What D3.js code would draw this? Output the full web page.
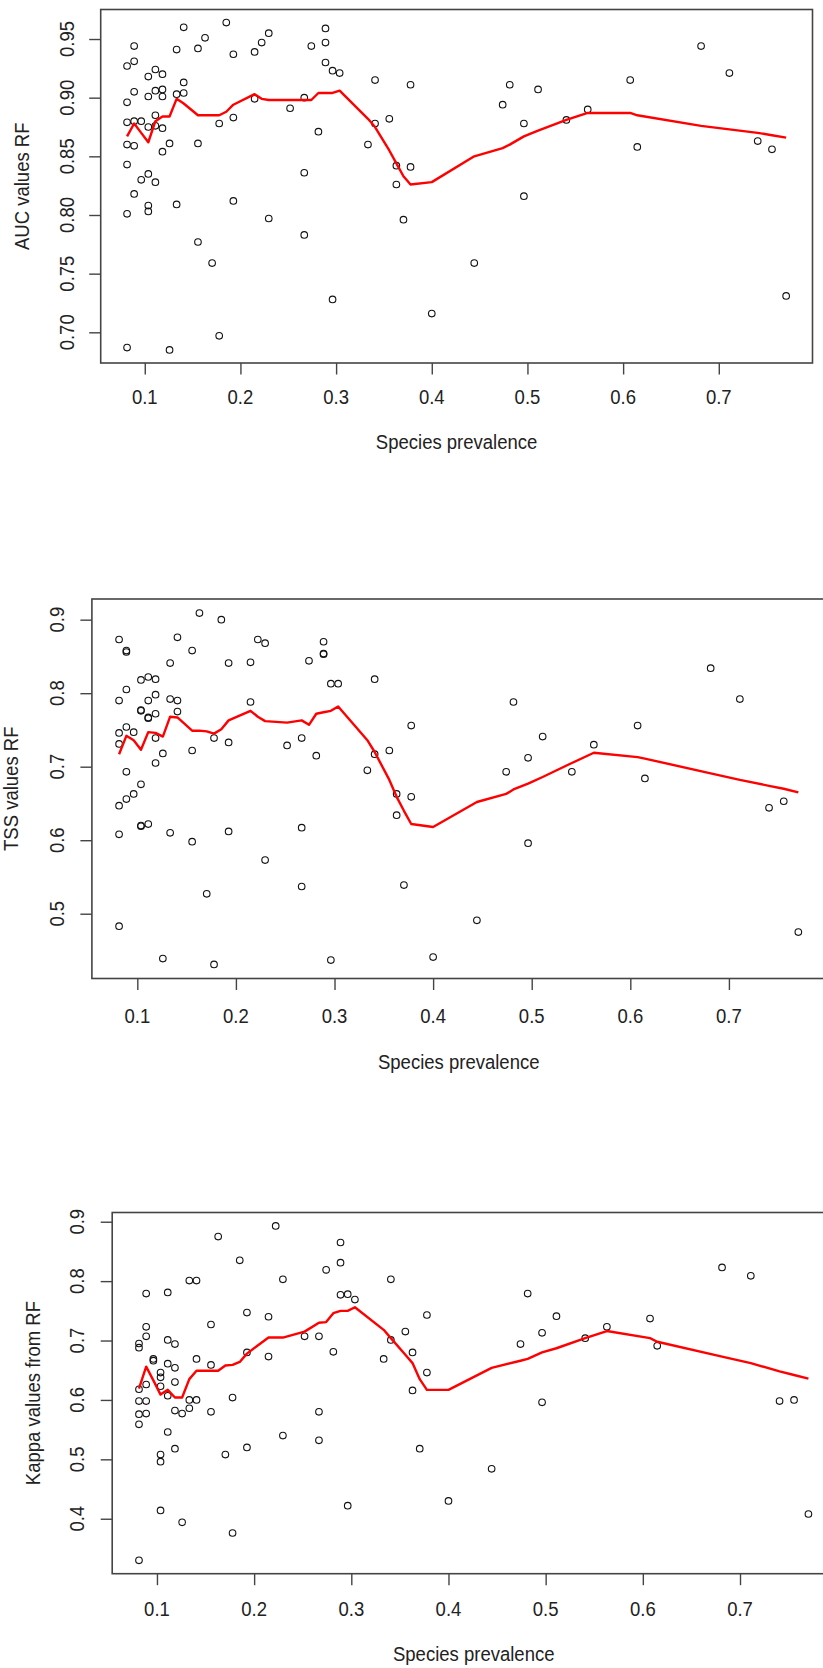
<!DOCTYPE html>
<html>
<head>
<meta charset="utf-8">
<script src="https://cdn.jsdelivr.net/npm/d3@7"></script>
<style>
  html, body { margin: 0; padding: 0; background: #fff; overflow: hidden; }
  svg { display: block; }
</style>
</head>
<body>
<svg id="chart" width="823" height="1668"></svg>
<script>
// Species prevalence (one entry per species, shared by all three panels)
const prevalence = [
  0.0815,0.0815,0.0815,0.0815,0.0815,0.0815,0.0815,
  0.0889,0.0889,0.0889,0.0889,0.0889,0.0889,
  0.0963,0.0963,
  0.1037,0.1037,0.1037,0.1037,0.1037,0.1037,
  0.1111,0.1111,0.1111,0.1111,0.1111,
  0.1185,0.1185,0.1185,0.1185,0.1185,
  0.1259,0.1259,
  0.1333,0.1333,0.1333,
  0.1407,0.1407,0.1407,
  0.1556,0.1556,0.1556,
  0.1630,
  0.1704,
  0.1778,0.1778,
  0.1852,
  0.1926,0.1926,0.1926,
  0.2148,0.2148,
  0.2222,
  0.2296,0.2296,
  0.2519,
  0.2667,0.2667,0.2667,
  0.2741,
  0.2815,
  0.2889,0.2889,0.2889,
  0.2963,0.2963,
  0.3037,
  0.3333,
  0.3407,0.3407,
  0.3556,
  0.3630,0.3630,
  0.3704,
  0.3778,0.3778,
  0.4000,0.4444,0.4741,0.4815,0.4963,0.4963,0.5111,0.5407,0.5630,
  0.6074,0.6148,0.6815,0.7111,0.7407,0.7556,0.7704
];

// Random forest AUC per species
const aucValues = [
  0.927,0.896,0.879,0.860,0.843,0.801,0.687,
  0.944,0.931,0.905,0.880,0.859,0.818,
  0.880,0.830,
  0.918,0.901,0.875,0.835,0.808,0.803,
  0.924,0.906,0.885,0.876,0.828,
  0.920,0.907,0.901,0.874,0.854,
  0.861,0.685,
  0.941,0.903,0.809,
  0.960,0.913,0.904,
  0.942,0.861,0.777,
  0.951,
  0.759,
  0.878,0.697,
  0.964,
  0.937,0.883,0.812,
  0.939,0.899,
  0.947,
  0.955,0.797,
  0.891,
  0.900,0.836,0.783,
  0.944,
  0.871,
  0.959,0.947,0.930,
  0.923,0.728,
  0.921,
  0.860,
  0.915,0.878,
  0.882,
  0.842,0.826,
  0.796,
  0.911,0.841,
  0.716,0.759,0.894,0.911,0.878,0.816,0.907,0.881,0.890,
  0.915,0.858,0.944,0.921,0.863,0.856,0.731
];

// Random forest TSS per species
const tssValues = [
  0.873,0.790,0.746,0.731,0.647,0.608,0.483,
  0.858,0.856,0.805,0.754,0.693,0.656,
  0.747,0.663,
  0.818,0.777,0.776,0.676,0.620,0.619,
  0.822,0.790,0.767,0.766,0.622,
  0.819,0.798,0.772,0.739,0.705,
  0.718,0.439,
  0.841,0.792,0.610,
  0.876,0.790,0.775,
  0.858,0.722,0.598,
  0.909,
  0.527,
  0.739,0.431,
  0.900,
  0.841,0.733,0.612,
  0.842,0.788,
  0.873,
  0.868,0.573,
  0.729,
  0.739,0.617,0.537,
  0.844,
  0.715,
  0.870,0.854,0.853,
  0.813,0.437,
  0.813,
  0.695,
  0.819,0.717,
  0.722,
  0.663,0.634,
  0.539,
  0.756,0.659,
  0.441,0.491,0.693,0.788,0.712,0.596,0.741,0.693,0.730,
  0.756,0.684,0.834,0.792,0.644,0.653,0.475
];

// Random forest Kappa per species
const kappaValues = [
  0.695,0.688,0.618,0.598,0.576,0.559,0.330,
  0.779,0.723,0.707,0.626,0.598,0.577,
  0.669,0.666,
  0.646,0.638,0.623,0.508,0.496,0.414,
  0.781,0.701,0.661,0.607,0.546,
  0.694,0.654,0.630,0.582,0.518,
  0.577,0.394,
  0.801,0.600,0.586,
  0.801,0.669,0.600,
  0.727,0.659,0.580,
  0.875,
  0.508,
  0.604,0.376,
  0.835,
  0.747,0.680,0.520,
  0.740,0.673,
  0.893,
  0.803,0.540,
  0.707,
  0.707,0.580,0.532,
  0.819,
  0.681,
  0.865,0.831,0.777,
  0.778,0.422,
  0.769,
  0.669,
  0.803,0.701,
  0.715,
  0.680,0.616,
  0.518,
  0.743,0.646,
  0.430,0.484,0.694,0.779,0.713,0.596,0.741,0.704,0.723,
  0.737,0.691,0.823,0.809,0.598,0.600,0.408
];

// Smoothed trend, evaluated at each distinct prevalence
const trendPrevalence = [
  0.0815,0.0889,0.0963,0.1037,0.1111,0.1185,0.1259,0.1333,0.1407,0.1556,
  0.1630,0.1704,0.1778,0.1852,0.1926,0.2148,0.2222,0.2296,0.2519,0.2667,
  0.2741,0.2815,0.2889,0.2963,0.3037,0.3333,0.3407,0.3556,0.3630,0.3704,
  0.3778,0.4000,0.4444,0.4741,0.4815,0.4963,0.5111,0.5407,0.5630,0.6074,
  0.6148,0.6815,0.7111,0.7407,0.7556,0.7704
];
const aucTrend = [
  0.867,0.878,0.870,0.862,0.880,0.884,0.884,0.899,0.895,0.885,
  0.885,0.885,0.885,0.888,0.894,0.903,0.899,0.898,0.898,0.898,
  0.898,0.904,0.904,0.904,0.906,0.882,0.875,0.855,0.844,0.833,
  0.826,0.828,0.850,0.857,0.860,0.867,0.872,0.881,0.887,0.887,
  0.885,0.876,0.873,0.870,0.868,0.866
];
const tssTrend = [
  0.717,0.742,0.736,0.723,0.747,0.746,0.741,0.768,0.767,0.749,
  0.749,0.748,0.745,0.751,0.763,0.776,0.768,0.762,0.760,0.763,
  0.757,0.772,0.774,0.776,0.782,0.736,0.720,0.682,0.659,0.640,
  0.622,0.618,0.652,0.663,0.669,0.677,0.686,0.705,0.719,0.713,
  0.711,0.691,0.682,0.674,0.670,0.665
];
const kappaTrend = [
  0.619,0.656,0.633,0.609,0.617,0.604,0.604,0.635,0.649,0.649,
  0.649,0.658,0.659,0.664,0.678,0.705,0.705,0.705,0.715,0.730,
  0.731,0.746,0.750,0.750,0.756,0.718,0.704,0.676,0.662,0.635,
  0.617,0.617,0.654,0.666,0.669,0.680,0.687,0.704,0.716,0.704,
  0.698,0.673,0.662,0.648,0.642,0.636
];

// Axis ticks and titles
const xTicks = [0.1, 0.2, 0.3, 0.4, 0.5, 0.6, 0.7];
const aucTicks = [0.70, 0.75, 0.80, 0.85, 0.90, 0.95];
const tssTicks = [0.5, 0.6, 0.7, 0.8, 0.9];
const kappaTicks = [0.4, 0.5, 0.6, 0.7, 0.8, 0.9];
const xTitle = "Species prevalence";
const yTitles = ["AUC values RF", "TSS values RF", "Kappa values from RF"];

// Panel layout (pixels)
const panels = [
  { values: aucValues, trend: aucTrend, ticks: aucTicks, fmt: ".2f", title: yTitles[0],
    box: { l: 100.7, r: 812.5, t: 9.5, b: 363 },
    xLab: 34, xTit: 80, yLab: 34, yTit: 78 },
  { values: tssValues, trend: tssTrend, ticks: tssTicks, fmt: ".1f", title: yTitles[1],
    box: { l: 91.9, r: 825.5, t: 599, b: 978.5 },
    xLab: 37.5, xTit: 84.5, yLab: 35.2, yTit: 80.2 },
  { values: kappaValues, trend: kappaTrend, ticks: kappaTicks, fmt: ".1f", title: yTitles[2],
    box: { l: 112.2, r: 835.2, t: 1212.5, b: 1573.7 },
    xLab: 35.3, xTit: 81.3, yLab: 34.9, yTit: 78.9 }
];

const FONT = "'Liberation Sans', Arial, Helvetica, sans-serif";
const FS = 19.5;
const INK = "#222";
const FRAME = "#444";
const TICK_LEN = 11.5;

// Extend a range by 4% on each side, as base R plots do
const padded = ext => {
  const d = (ext[1] - ext[0]) * 0.04;
  return [ext[0] - d, ext[1] + d];
};

const svg = d3.select("#chart");

function label(g, x, y, rot, txt, dy) {
  g.append("text")
    .attr("transform", `translate(${x},${y}) rotate(${rot}) scale(0.95,1)`)
    .attr("text-anchor", "middle")
    .attr("dy", dy)
    .attr("font-family", FONT)
    .attr("font-size", FS)
    .attr("fill", INK)
    .text(txt);
}

panels.forEach(p => {
  const g = svg.append("g");
  const { l, r, t, b } = p.box;

  const x = d3.scaleLinear().domain(padded(d3.extent(prevalence))).range([l, r]);
  const y = d3.scaleLinear().domain(padded(d3.extent(p.values))).range([b, t]);

  // Bottom axis ticks and labels
  const xAxis = g.append("g").attr("transform", `translate(0,${b})`)
    .call(d3.axisBottom(x).tickValues(xTicks).tickSize(TICK_LEN).tickFormat(""));
  xAxis.select(".domain").remove();
  xAxis.selectAll(".tick line").attr("stroke", FRAME).attr("stroke-width", 1.4);
  xTicks.forEach(v => label(g, x(v), b + p.xLab, 0, d3.format(".1f")(v), "0.36em"));
  label(g, (l + r) / 2, b + p.xTit, 0, xTitle, "0.3em");

  // Left axis ticks and rotated labels
  const yAxis = g.append("g").attr("transform", `translate(${l},0)`)
    .call(d3.axisLeft(y).tickValues(p.ticks).tickSize(TICK_LEN).tickFormat(""));
  yAxis.select(".domain").remove();
  yAxis.selectAll(".tick line").attr("stroke", FRAME).attr("stroke-width", 1.4);
  p.ticks.forEach(v => label(g, l - p.yLab, y(v), -90, d3.format(p.fmt)(v), "0.36em"));
  label(g, l - p.yTit, (t + b) / 2, -90, p.title, "0.34em");

  // Plot frame
  g.append("rect")
    .attr("x", l).attr("y", t)
    .attr("width", r - l).attr("height", b - t)
    .attr("fill", "none")
    .attr("stroke", FRAME)
    .attr("stroke-width", 1.6);

  // Species points
  g.append("g").selectAll("circle")
    .data(prevalence.map((v, i) => [v, p.values[i]]))
    .join("circle")
    .attr("cx", d => x(d[0]))
    .attr("cy", d => y(d[1]))
    .attr("r", 3.3)
    .attr("fill", "none")
    .attr("stroke", "#111")
    .attr("stroke-width", 1.1);

  // Smoothed trend
  g.append("path")
    .datum(trendPrevalence.map((v, i) => [v, p.trend[i]]))
    .attr("d", d3.line().x(d => x(d[0])).y(d => y(d[1])))
    .attr("fill", "none")
    .attr("stroke", "#ff0000")
    .attr("stroke-width", 2.4)
    .attr("stroke-linejoin", "round");
});
</script>
</body>
</html>
